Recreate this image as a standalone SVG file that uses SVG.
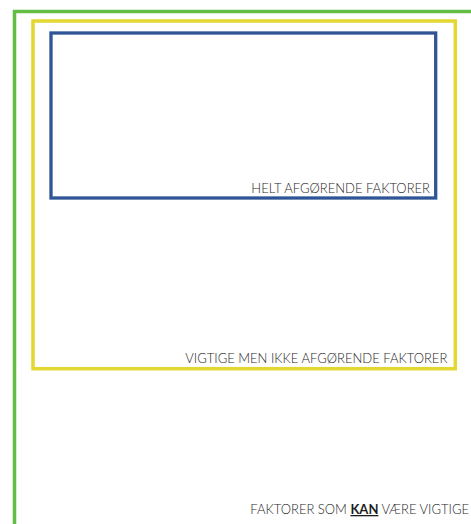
<svg xmlns="http://www.w3.org/2000/svg" width="471" height="524" viewBox="0 0 471 524">
<style>
.lbl{font-family:Lato,"Open Sans","Liberation Sans",sans-serif;font-size:13px;fill:#1e1e1e;text-anchor:end;font-weight:300}
.box{fill:none}
</style>
<rect width="471" height="524" fill="#fff"/>
<g id="green">
<polyline class="box" points="471,11.5 14.5,11.5 14.5,524" stroke="#62bd45" stroke-width="3.5"/>
<text class="lbl" x="469" y="514">FAKTORER SOM <tspan font-weight="700" text-decoration="underline">KAN</tspan> VÆRE VIGTIGE</text>
</g>
<g id="yellow">
<rect class="box" x="33" y="21" width="422.3" height="347.7" stroke="#e3d832" stroke-width="3.5"/>
<text class="lbl" x="447.3" y="362.7">VIGTIGE MEN IKKE AFGØRENDE FAKTORER</text>
</g>
<g id="blue">
<rect class="box" x="51" y="33" width="384.7" height="165" stroke="#2f5596" stroke-width="3.3"/>
<text class="lbl" x="430" y="192.7">HELT AFGØRENDE FAKTORER</text>
</g>
<g id="connectors"/>
</svg>
